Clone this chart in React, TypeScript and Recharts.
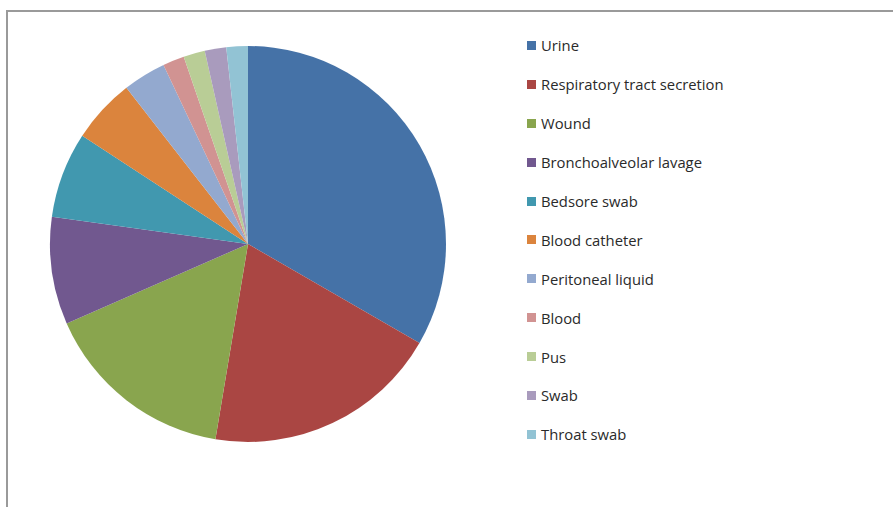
import { Cell, Legend, Pie, PieChart } from "recharts";

const labels = [
  "Urine",
  "Respiratory tract secretion",
  "Wound",
  "Bronchoalveolar lavage",
  "Bedsore swab",
  "Blood catheter",
  "Peritoneal liquid",
  "Blood",
  "Pus",
  "Swab",
  "Throat swab",
];
const counts = [19, 11, 9, 5, 4, 3, 2, 1, 1, 1, 1];
const colors = [
  "#4572A7",
  "#AA4643",
  "#89A54E",
  "#71588F",
  "#4198AF",
  "#DB843D",
  "#93A9CF",
  "#D19392",
  "#B9CD96",
  "#A99BBD",
  "#92C3D4",
];

const data = labels.map((name, i) => ({ name, value: counts[i] }));

const LegendBox = () => (
  <div style={{ fontFamily: "'Open Sans', sans-serif", fontSize: 14.8, color: "#2a2a2a" }}>
    {labels.map((l, i) => (
      <div key={l} style={{ display: "flex", alignItems: "center", height: 38.9 }}>
        <span style={{ width: 9, height: 9, background: colors[i], marginRight: 5 }} />
        <span>{l}</span>
      </div>
    ))}
  </div>
);

export default function App() {
  return (
    <div style={{ position: "absolute", left: 0, top: 0, width: 893, height: 507, background: "#fff" }}>
      <div
        style={{
          position: "absolute",
          left: 6,
          top: 10,
          right: 0,
          bottom: 0,
          borderTop: "2px solid #9a9a9a",
          borderLeft: "2px solid #9a9a9a",
        }}
      />
      <PieChart
        width={893}
        height={507}
        margin={{ top: 0, right: 0, bottom: 0, left: 0 }}
        style={{ position: "absolute", left: 0, top: 0 }}
      >
        <Pie
          data={data}
          dataKey="value"
          nameKey="name"
          cx={248}
          cy={244}
          outerRadius={198}
          startAngle={90}
          endAngle={-270}
          stroke="none"
          isAnimationActive={false}
        >
          {data.map((d, i) => (
            <Cell key={d.name} fill={colors[i]} />
          ))}
        </Pie>
        <Legend
          layout="vertical"
          content={<LegendBox />}
          wrapperStyle={{ position: "absolute", left: 527, top: 26, width: 320 }}
        />
      </PieChart>
    </div>
  );
}
